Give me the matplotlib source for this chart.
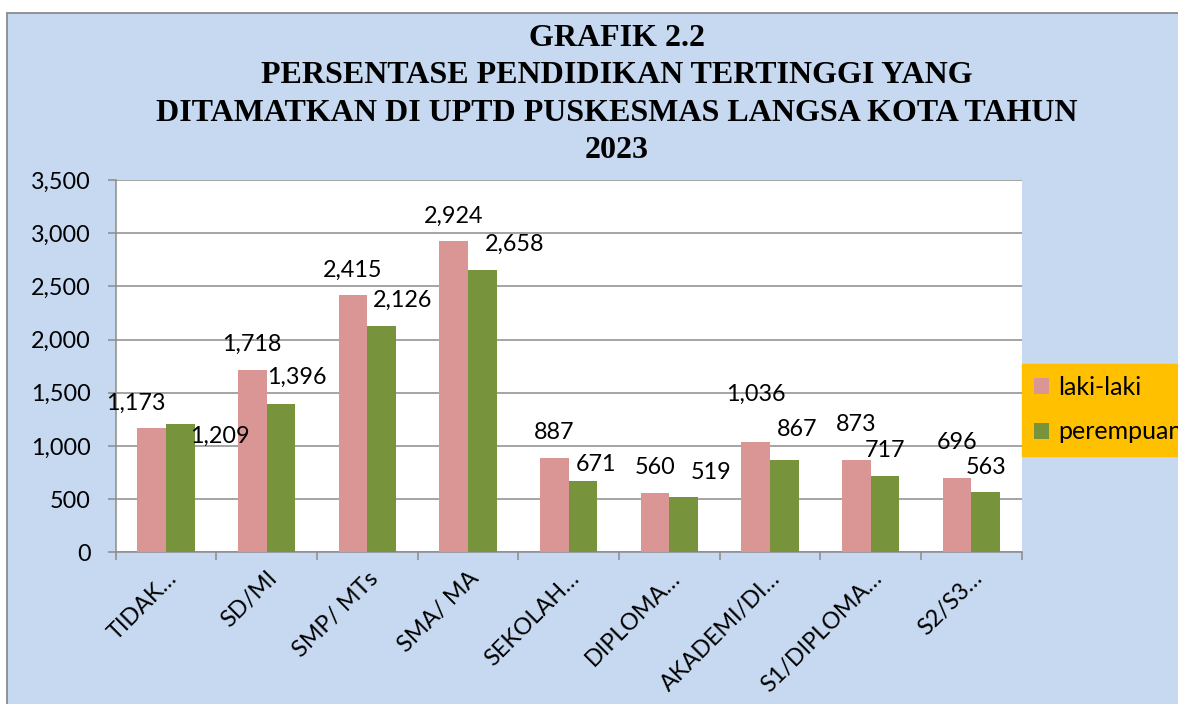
import numpy as np
import matplotlib
matplotlib.use("Agg")
import matplotlib.pyplot as plt
from matplotlib.patches import Rectangle, Patch
from matplotlib.ticker import FuncFormatter, MultipleLocator, FixedLocator

# data
categories = ["TIDAK…", "SD/MI", "SMP/ MTs", "SMA/ MA", "SEKOLAH…",
              "DIPLOMA…", "AKADEMI/DI…", "S1/DIPLOMA…", "S2/S3…"]
laki = [1173, 1718, 2415, 2924, 887, 560, 1036, 873, 696]
perempuan = [1209, 1396, 2126, 2658, 671, 519, 867, 717, 563]
series_names = ["laki-laki", "perempuan"]
title_lines = ["GRAFIK 2.2",
               "PERSENTASE PENDIDIKAN TERTINGGI YANG",
               "DITAMATKAN DI UPTD PUSKESMAS LANGSA KOTA TAHUN",
               "2023"]

# label offsets (pixels from top centre of bar) - labels were hand placed
laki_off = [(-16, 26), (0, 27), (0, 27), (0, 26), (0, 27), (0, 27), (0, 49), (0, 37), (0, 37)]
per_off = [(40, -11), (16, 28), (21, 27), (32, 27), (13, 18), (27, 26), (13, 32), (0, 27), (0, 26)]

PINK = "#d99694"
GREEN = "#77933c"
BLUE_BG = "#c6d9f1"
GRID = "#8c8c8c"
FONT = "Lato"

W, H = 1178, 704
fig = plt.figure(figsize=(W / 100, H / 100), dpi=100)
fig.patch.set_facecolor("white")

# outer chart area (blue, gray border on top/left)
bg = Rectangle((7.3 / W, -0.1), 1.2, (H - 12.7) / H + 0.1,
               transform=fig.transFigure, facecolor=BLUE_BG,
               edgecolor="#8a8a8a", linewidth=1.3)
bg.set_zorder(-5)
fig.add_artist(bg)

# title
for i, line in enumerate(title_lines):
    y_base = [46, 83.3, 120.7, 158][i]
    fig.text(617 / W, 1 - y_base / H, line, ha="center", va="baseline",
             fontsize=23, fontweight="bold", family="Liberation Serif")

left, right, top, bottom = 115.5, 1021.7, 180, 552.4
ax = fig.add_axes([left / W, 1 - bottom / H, (right - left) / W, (bottom - top) / H])
ax.set_facecolor("white")

x = np.arange(len(categories))
bw = 0.285
ax.bar(x - bw / 2, laki, bw, color=PINK, zorder=3, label=series_names[0])
ax.bar(x + bw / 2, perempuan, bw, color=GREEN, zorder=3, label=series_names[1])

for xs, vals, offs in [(x - bw / 2, laki, laki_off), (x + bw / 2, perempuan, per_off)]:
    for xi, v, (dx, dy) in zip(xs, vals, offs):
        ax.annotate(f"{v:,}", xy=(xi, v), xytext=(dx, dy - 8), textcoords="offset pixels",
                    ha="center", va="baseline", fontsize=16.8, family=FONT,
                    annotation_clip=False, zorder=5)

ax.set_xlim(-0.5, len(categories) - 0.5)
ax.set_ylim(0, 3500)
ax.yaxis.set_major_locator(MultipleLocator(500))
ax.yaxis.set_major_formatter(FuncFormatter(lambda v, p: f"{int(v):,}"))
ax.grid(axis="y", color=GRID, linewidth=1.1, zorder=1)
ax.set_axisbelow(True)

ax.set_xticks(x)
ax.set_xticklabels(categories, rotation=45, ha="right", rotation_mode="anchor",
                   fontsize=16.8, family=FONT)
ax.xaxis.set_minor_locator(FixedLocator(np.arange(-0.5, len(categories), 1.0)))
ax.tick_params(axis="x", which="major", length=0, pad=11)
ax.tick_params(axis="x", which="minor", length=6, width=1.1, color=GRID, direction="out")
ax.tick_params(axis="y", length=6, width=1.1, color=GRID, pad=12, labelsize=16.8)
for lab in ax.get_yticklabels():
    lab.set_family(FONT)

for s in ["top", "right"]:
    ax.spines[s].set_visible(False)
for s in ["left", "bottom"]:
    ax.spines[s].set_color(GRID)
    ax.spines[s].set_linewidth(1.1)

handles = [Patch(facecolor=PINK), Patch(facecolor=GREEN)]
leg = ax.legend(handles, series_names, loc="center left", bbox_to_anchor=(1.0, 0.383),
                borderaxespad=0, frameon=True, fancybox=False, framealpha=1,
                facecolor="#ffc000", edgecolor="#ffc000", prop={"family": FONT, "size": 18},
                handlelength=0.6, handleheight=0.6, handletextpad=0.35,
                labelspacing=0.85, borderpad=0.5)
leg.set_zorder(6)

fig.savefig("out.png", dpi=100)
